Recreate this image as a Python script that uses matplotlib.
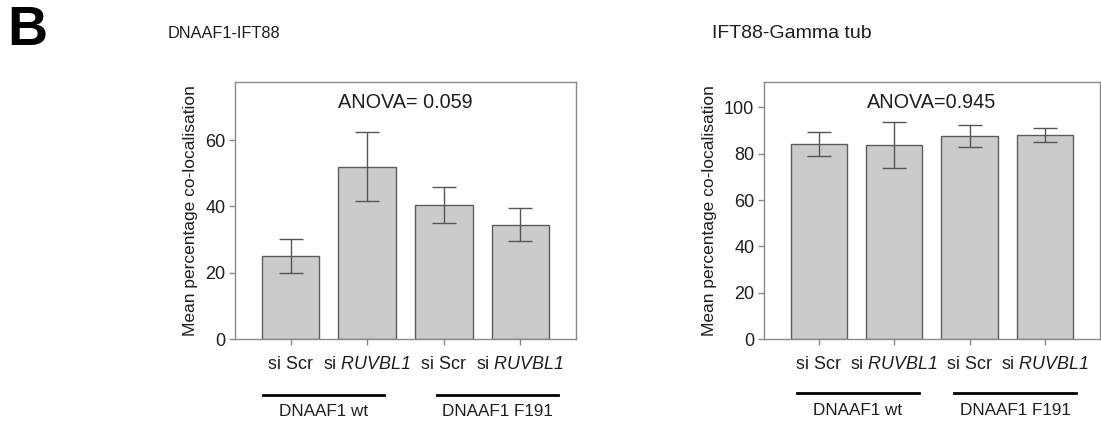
import matplotlib
matplotlib.use("Agg")
import matplotlib.pyplot as plt
import matplotlib.transforms as mtransforms

plt.rcParams['font.family'] = ['Liberation Sans', 'DejaVu Sans']
# Gene names inside $...$ are set fully in italic (digits included)
plt.rcParams['mathtext.fontset'] = 'custom'
plt.rcParams['mathtext.rm'] = 'Liberation Sans:italic'
plt.rcParams['mathtext.it'] = 'Liberation Sans:italic'

# Data
conditions = ["si Scr", "si $\\mathrm{RUVBL1}$", "si Scr", "si $\\mathrm{RUVBL1}$"]
groups = ["DNAAF1 wt", "DNAAF1 F191"]

ift88_mean = [25.0, 52.0, 40.5, 34.5]
ift88_err = [5.2, 10.3, 5.4, 4.9]

gamma_mean = [84.3, 83.8, 87.6, 88.3]
gamma_err = [5.2, 9.8, 4.7, 3.0]

panel_titles = ["DNAAF1-IFT88", "IFT88-Gamma tub"]
title_sizes = [11.8, 14.0]
anova_labels = ["ANOVA= 0.059", "ANOVA=0.945"]
ylabel = "Mean percentage co-localisation"

fig = plt.figure(figsize=(11.01, 4.21), dpi=100)

BAR_FACE = '#cbcbcb'
BAR_EDGE = '#5c5c5c'
SPINE = '#8a8a8a'
TXT = '#1e1e1e'


def draw_panel(rect, means, errs, ylim, yticks, xlim, anova, title, title_size, title_xy,
               group_spans, line_y, group_y, anova_y):
    ax = fig.add_axes(rect)
    x = list(range(len(means)))
    ax.bar(x, means, width=0.75, color=BAR_FACE, edgecolor=BAR_EDGE, linewidth=1.0, zorder=2)
    ax.errorbar(x, means, yerr=errs, fmt='none', ecolor='#555555', elinewidth=1.0,
                capsize=8.5, capthick=1.0, zorder=3)
    ax.set_xlim(*xlim)
    ax.set_ylim(*ylim)
    ax.set_yticks(yticks)
    ax.set_yticklabels([str(t) for t in yticks])
    ax.set_xticks(x)
    ax.set_xticklabels(conditions)
    for s in ax.spines.values():
        s.set_color(SPINE)
        s.set_linewidth(1.0)
    ax.tick_params(axis='y', length=4, width=1.0, color=SPINE, labelsize=13, labelcolor=TXT, pad=3)
    ax.tick_params(axis='x', length=4, width=1.0, color=SPINE, labelsize=12.9, labelcolor=TXT, pad=8)
    ax.set_ylabel(ylabel, fontsize=12.5, color=TXT, labelpad=5)
    trans = mtransforms.blended_transform_factory(ax.transData, ax.transAxes)
    ax.text(0.5 * (xlim[0] + xlim[1]), anova_y, anova, transform=trans,
            ha='center', va='center', fontsize=14.3, color=TXT)
    for (x0, x1), name in zip(group_spans, groups):
        ax.plot([x0, x1], [line_y, line_y], color='black', linewidth=2.0, transform=trans, clip_on=False)
        ax.text(0.5 * (x0 + x1), group_y, name, transform=trans, ha='center', va='center',
                fontsize=12.3, color=TXT)
    fig.text(title_xy[0], title_xy[1], title, ha='left', va='center', fontsize=title_size,
             color=TXT)
    return ax


draw_panel([235 / 1101, 82 / 421, 341 / 1101, 257 / 421], ift88_mean, ift88_err,
           (0, 77.5), [0, 20, 40, 60], (-0.725, 3.725), anova_labels[0],
           panel_titles[0], title_sizes[0], (168 / 1101, 1 - 33 / 421),
           [(-0.36, 1.22), (1.91, 3.486)], -0.218, -0.284, 0.92)

draw_panel([764 / 1101, 82 / 421, 336 / 1101, 257 / 421], gamma_mean, gamma_err,
           (0, 111), [0, 20, 40, 60, 80, 100], (-0.727, 3.73), anova_labels[1],
           panel_titles[1], title_sizes[1], (712 / 1101, 1 - 33 / 421),
           [(-0.289, 1.329), (1.793, 3.411)], -0.21, -0.28, 0.92)

fig.text(7 / 1101, 1 - 31 / 421, "B", fontsize=40, fontweight='bold', ha='left', va='center',
         color='black', family=['Liberation Sans'])

fig.savefig("out.png", dpi=100)
